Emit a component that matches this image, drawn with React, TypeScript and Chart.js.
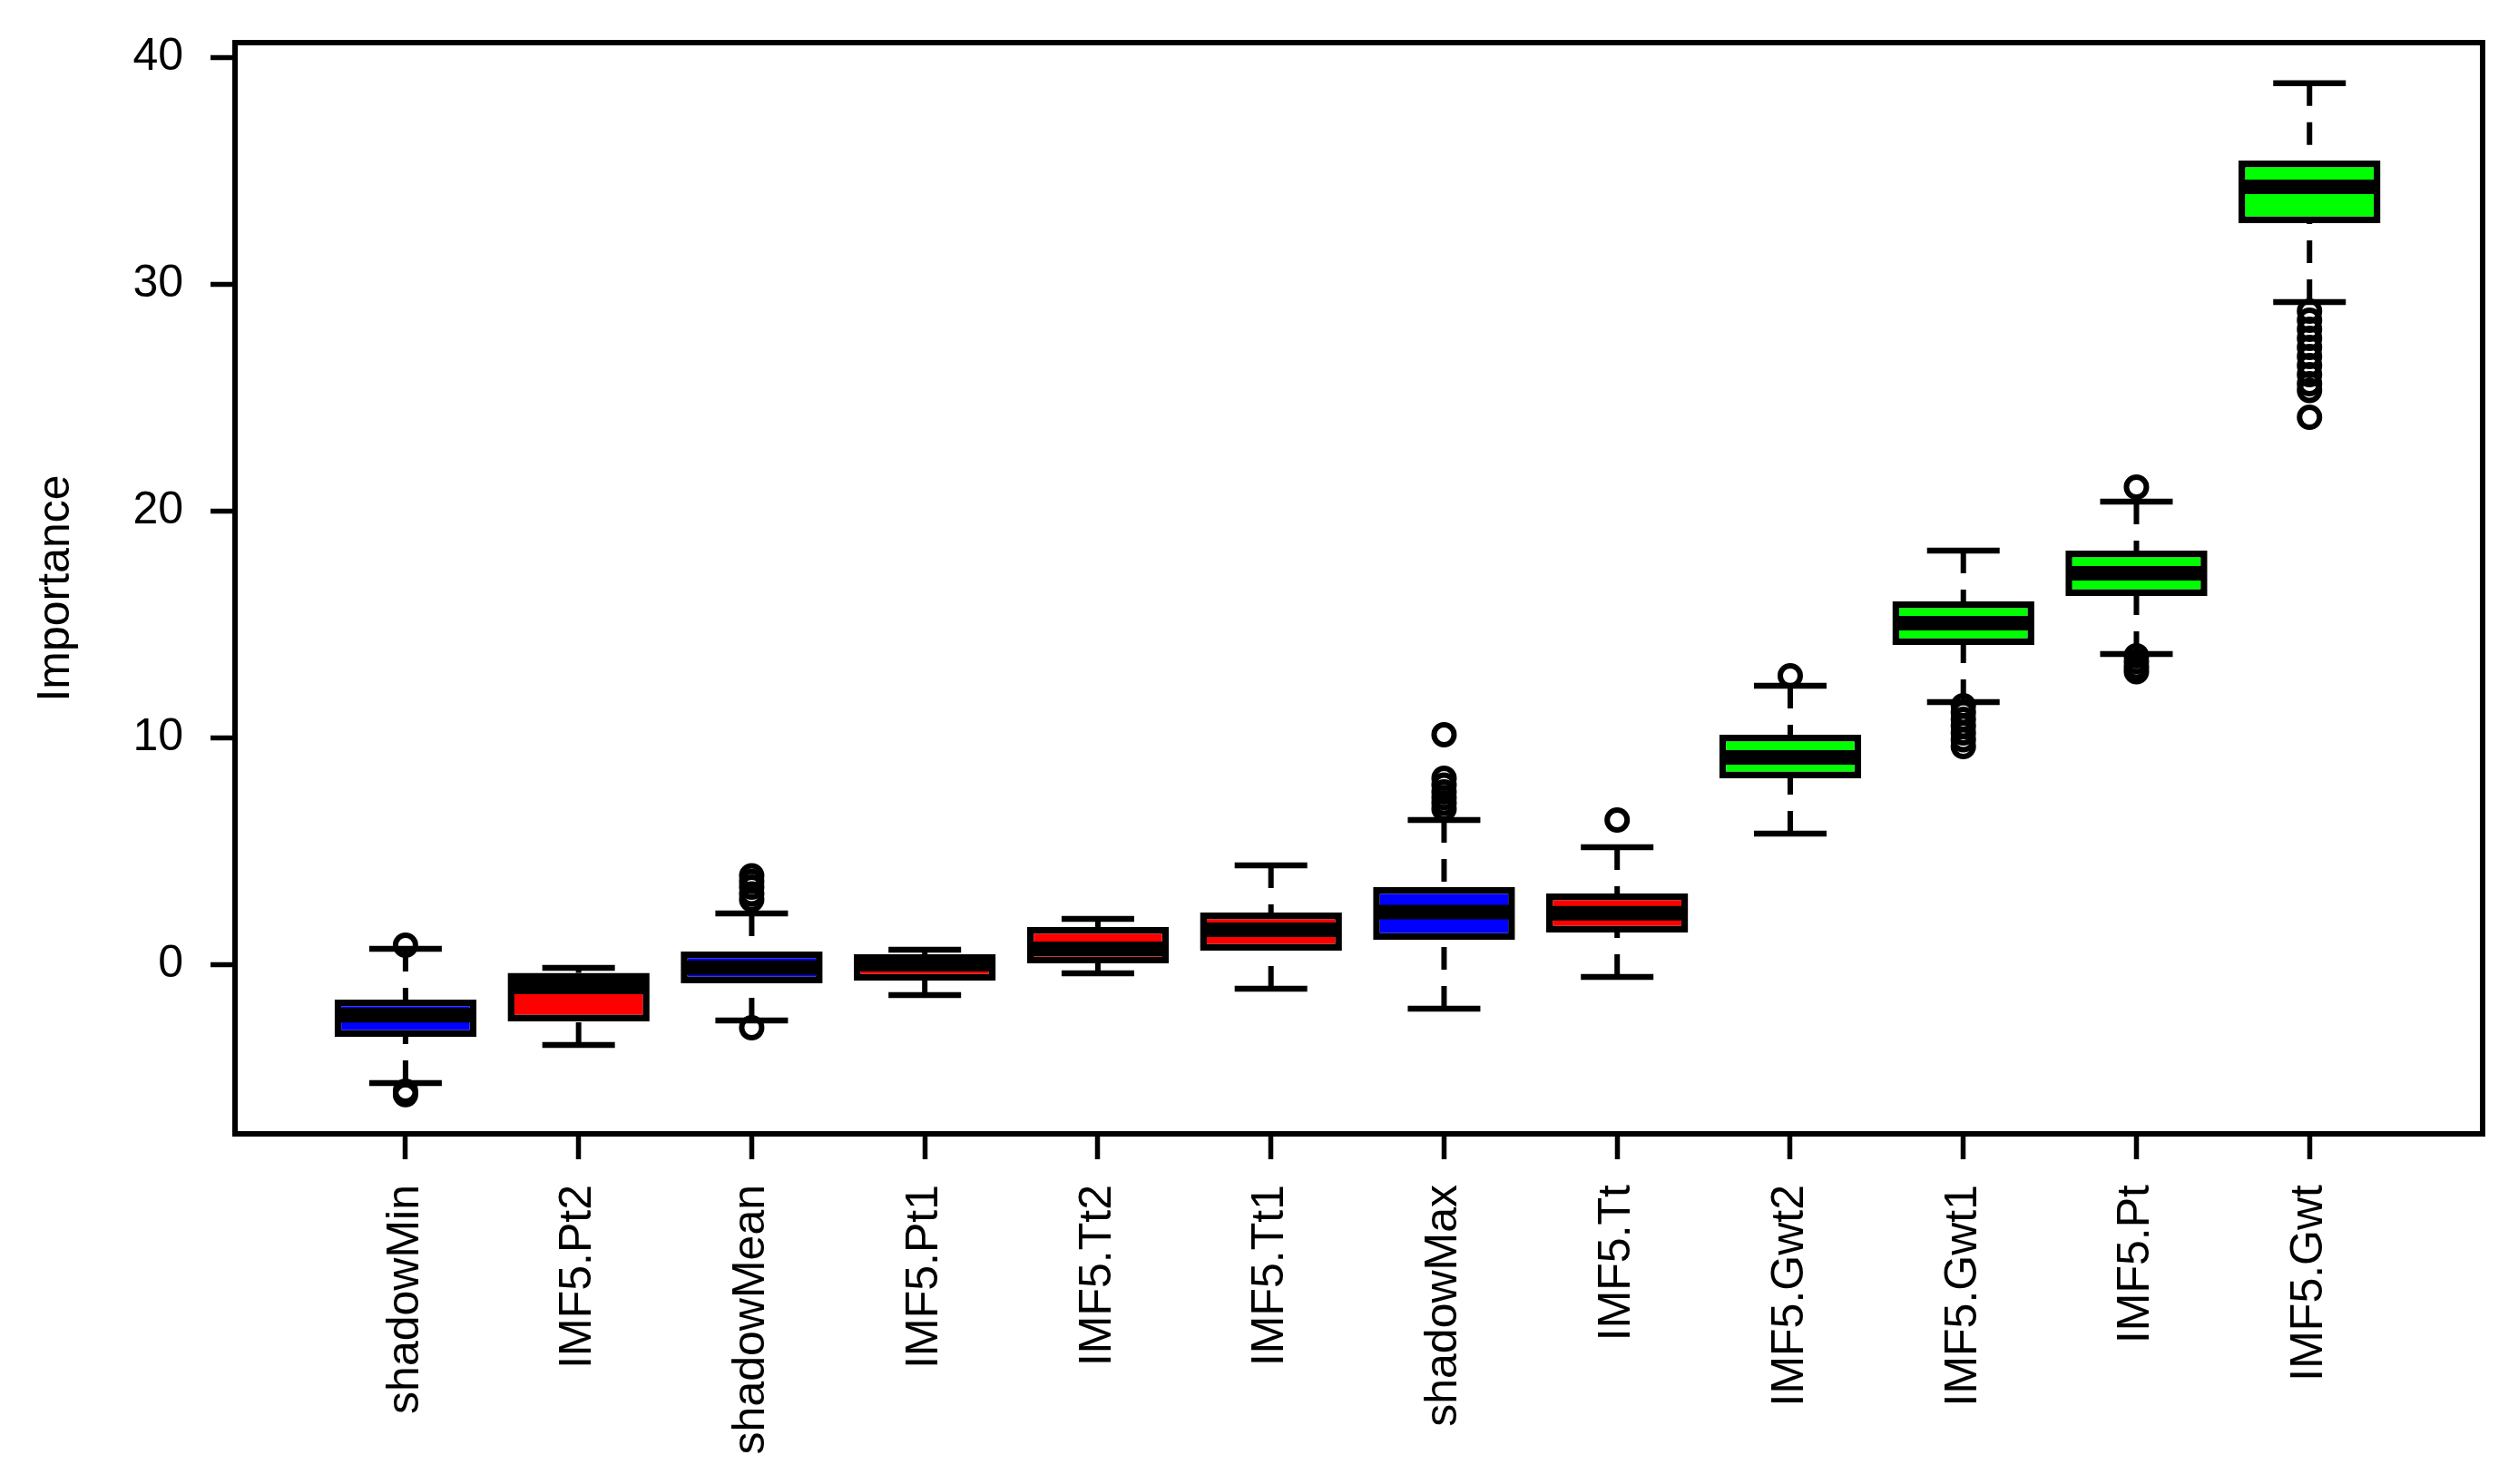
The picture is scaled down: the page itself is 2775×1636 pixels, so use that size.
import { useEffect, useRef } from 'react';
import { Chart, registerables } from 'chart.js';

Chart.register(...registerables);

const categories = [
  'shadowMin', 'IMF5.Pt2', 'shadowMean', 'IMF5.Pt1', 'IMF5.Tt2', 'IMF5.Tt1',
  'shadowMax', 'IMF5.Tt', 'IMF5.Gwt2', 'IMF5.Gwt1', 'IMF5.Pt', 'IMF5.Gwt',
];
const boxColors = [
  '#0000FF', '#FF0000', '#0000FF', '#FF0000', '#FF0000', '#FF0000',
  '#0000FF', '#FF0000', '#00FF00', '#00FF00', '#00FF00', '#00FF00',
];
const lowerWhisker = [-5.24, -3.56, -2.48, -1.36, -0.4, -1.08, -1.96, -0.56, 5.76, 11.56, 13.68, 29.2];
const lowerHinge = [-3.2, -2.52, -0.84, -0.72, 0.04, 0.6, 1.08, 1.4, 8.2, 14.08, 16.24, 32.68];
const medians = [-2.25, -1.0, -0.15, 0.0, 0.68, 1.52, 2.3, 2.25, 9.12, 15.04, 17.24, 34.28];
const upperHinge = [-1.56, -0.38, 0.56, 0.44, 1.64, 2.28, 3.4, 3.12, 10.12, 16.0, 18.24, 35.44];
const upperWhisker = [0.68, -0.16, 2.24, 0.64, 2.0, 4.36, 6.36, 5.16, 12.28, 18.24, 20.4, 38.85];
const outliers: number[][] = [
  [0.84, -5.6, -5.75],
  [],
  [3.9, 3.65, 3.4, 3.1, 2.85, -2.8],
  [],
  [],
  [],
  [10.12, 8.2, 7.9, 7.6, 7.35, 7.1, 6.85],
  [6.36],
  [12.72],
  [11.4, 11.1, 10.8, 10.5, 10.2, 9.9, 9.6],
  [21.04, 13.6, 13.35, 13.1, 12.9],
  [28.8, 28.4, 28.0, 27.6, 27.2, 26.8, 26.4, 26.0, 25.6, 25.3, 24.12],
];
const yTicks = [0, 10, 20, 30, 40];

const FONT = { family: '"Liberation Sans", Arial, sans-serif', size: 50 };

const framePlugin = {
  id: 'frame',
  afterDatasetsDraw(chart: any) {
    const { ctx, chartArea: a } = chart;
    ctx.save();
    ctx.lineWidth = 6;
    ctx.strokeStyle = '#000';
    ctx.strokeRect(a.left, a.top, a.right - a.left, a.bottom - a.top);
    ctx.restore();
  },
};

export default function App() {
  const ref = useRef<HTMLCanvasElement>(null);

  useEffect(() => {
    const upperLine = categories.flatMap((_, i) => [
      { x: i + 1, y: upperWhisker[i] },
      { x: i + 1, y: upperHinge[i] },
      { x: i + 1, y: null },
    ]);
    const lowerLine = categories.flatMap((_, i) => [
      { x: i + 1, y: lowerWhisker[i] },
      { x: i + 1, y: lowerHinge[i] },
      { x: i + 1, y: null },
    ]);
    const caps = categories.flatMap((_, i) => [
      { x: i + 1, y: upperWhisker[i] },
      { x: i + 1, y: lowerWhisker[i] },
    ]);
    const outPts = outliers.flatMap((arr, i) => arr.map((v) => ({ x: i + 1, y: v })));

    const chart = new Chart(ref.current as HTMLCanvasElement, {
      type: 'scatter',
      data: {
        datasets: [
          {
            type: 'line',
            data: upperLine as any,
            borderColor: '#000',
            borderWidth: 6,
            borderDash: [25, 18],
            pointRadius: 0,
            spanGaps: false,
            fill: false,
            showLine: true,
            order: 5,
          } as any,
          {
            type: 'line',
            data: lowerLine as any,
            borderColor: '#000',
            borderWidth: 6,
            borderDash: [25, 18],
            pointRadius: 0,
            spanGaps: false,
            fill: false,
            showLine: true,
            order: 5,
          } as any,
          {
            type: 'line',
            data: caps,
            showLine: false,
            pointStyle: 'line',
            pointRadius: 40,
            pointBorderWidth: 6.5,
            pointBorderColor: '#000',
            order: 4,
          } as any,
          {
            type: 'bar',
            data: categories.map((_, i) => ({ x: i + 1, y: [lowerHinge[i], upperHinge[i]] })) as any,
            backgroundColor: boxColors,
            borderColor: '#000',
            borderWidth: 7.5,
            borderSkipped: false,
            barPercentage: 0.82,
            categoryPercentage: 1,
            order: 3,
          } as any,
          {
            type: 'line',
            data: categories.map((_, i) => ({ x: i + 1, y: medians[i] })),
            showLine: false,
            pointStyle: 'line',
            pointRadius: 77,
            pointBorderWidth: 16,
            pointBorderColor: '#000',
            order: 2,
          } as any,
          {
            type: 'line',
            data: outPts,
            showLine: false,
            pointStyle: 'circle',
            pointRadius: 11,
            pointBorderWidth: 6,
            pointBorderColor: '#000',
            pointBackgroundColor: 'rgba(0,0,0,0)',
            order: 1,
          } as any,
        ],
      },
      options: {
        animation: false,
        responsive: false,
        devicePixelRatio: 1,
        events: [],
        layout: { autoPadding: false, padding: { top: 47, right: 39, left: 0, bottom: 0 } },
        plugins: {
          legend: { display: false },
          tooltip: { enabled: false },
        },
        scales: {
          x: {
            type: 'linear',
            min: 0.015,
            max: 13.0,
            offset: false,
            afterBuildTicks: (s: any) => {
              s.ticks = categories.map((_, i) => ({ value: i + 1 }));
            },
            afterFit: (s: any) => {
              s.height = 386;
              s.paddingLeft = 0;
              s.paddingRight = 0;
              s.paddingTop = 0;
              s.paddingBottom = 0;
            },
            ticks: {
              autoSkip: false,
              minRotation: 90,
              maxRotation: 90,
              padding: 28,
              color: '#000',
              font: FONT,
              callback: (v: any) => categories[Math.round(Number(v)) - 1] ?? '',
            },
            grid: {
              drawOnChartArea: false,
              drawTicks: true,
              tickLength: 28,
              tickWidth: 5.5,
              tickColor: '#000',
              offset: false,
            },
            border: { display: false },
          },
          y: {
            type: 'linear',
            min: -7.48,
            max: 40.64,
            afterBuildTicks: (s: any) => {
              s.ticks = yTicks.map((v) => ({ value: v }));
            },
            afterFit: (s: any) => {
              s.width = 259;
              s.paddingLeft = 0;
              s.paddingRight = 0;
              s.paddingTop = 0;
              s.paddingBottom = 0;
            },
            ticks: {
              padding: 30,
              color: '#000',
              font: FONT,
              callback: (v: any) => String(v),
            },
            grid: {
              drawOnChartArea: false,
              drawTicks: true,
              tickLength: 27,
              tickWidth: 5.5,
              tickColor: '#000',
            },
            border: { display: false },
            title: {
              display: true,
              text: 'Importance',
              color: '#000',
              font: FONT,
              padding: { top: 32, bottom: 0 },
            },
          },
        },
      } as any,
      plugins: [framePlugin],
    });
    return () => chart.destroy();
  }, []);

  return (
    <div style={{ position: 'fixed', left: 0, top: 0, width: 2775, height: 1636, background: '#fff' }}>
      <canvas ref={ref} width={2775} height={1636} style={{ display: 'block', width: 2775, height: 1636 }} />
    </div>
  );
}
